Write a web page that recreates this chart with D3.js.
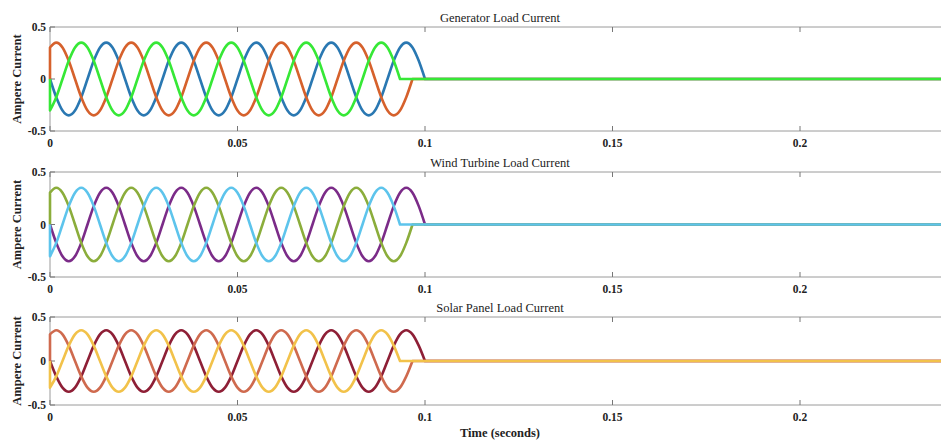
<!DOCTYPE html>
<html>
<head>
<meta charset="utf-8">
<script src="https://cdn.jsdelivr.net/npm/d3@7/dist/d3.min.js"></script>
<style>
body { margin:0; background:#fff; }
text { font-family:"Liberation Serif","Times New Roman",serif; fill:#222; }
</style>
</head>
<body>
<svg id="chart" width="941" height="442"></svg>
<script>
// one sample every 30 electrical degrees of the 50 Hz waveform
var sampleStep = 1/600;
var tEnd = 0.24;
var xTicks = [0, 0.05, 0.1, 0.15, 0.2];
var yTicks = [-0.5, 0, 0.5];

var panelTitles = ["Generator Load Current", "Wind Turbine Load Current", "Solar Panel Load Current"];
var generatorColors = ["#2a78b2", "#d6612c", "#36e836"];
var windColors = ["#7b2b88", "#8bad3b", "#5dc4ec"];
var solarColors = ["#8e1f36", "#cf6a4e", "#f2c24a"];

// phase currents (A), each phase stops at its own zero crossing
var phaseA = [0,-0.175,-0.303,-0.35,-0.303,-0.175,0,0.175,0.303,0.35,0.303,0.175,
              0,-0.175,-0.303,-0.35,-0.303,-0.175,0,0.175,0.303,0.35,0.303,0.175,
              0,-0.175,-0.303,-0.35,-0.303,-0.175,0,0.175,0.303,0.35,0.303,0.175,
              0,-0.175,-0.303,-0.35,-0.303,-0.175,0,0.175,0.303,0.35,0.303,0.175,
              0,-0.175,-0.303,-0.35,-0.303,-0.175,0,0.175,0.303,0.35,0.303,0.175,
              0];
var phaseB = [0.303,0.35,0.303,0.175,0,-0.175,-0.303,-0.35,-0.303,-0.175,0,0.175,
              0.303,0.35,0.303,0.175,0,-0.175,-0.303,-0.35,-0.303,-0.175,0,0.175,
              0.303,0.35,0.303,0.175,0,-0.175,-0.303,-0.35,-0.303,-0.175,0,0.175,
              0.303,0.35,0.303,0.175,0,-0.175,-0.303,-0.35,-0.303,-0.175,0,0.175,
              0.303,0.35,0.303,0.175,0,-0.175,-0.303,-0.35,-0.303,-0.175,0];
var phaseC = [-0.303,-0.175,0,0.175,0.303,0.35,0.303,0.175,0,-0.175,-0.303,-0.35,
              -0.303,-0.175,0,0.175,0.303,0.35,0.303,0.175,0,-0.175,-0.303,-0.35,
              -0.303,-0.175,0,0.175,0.303,0.35,0.303,0.175,0,-0.175,-0.303,-0.35,
              -0.303,-0.175,0,0.175,0.303,0.35,0.303,0.175,0,-0.175,-0.303,-0.35,
              -0.303,-0.175,0,0.175,0.303,0.35,0.303,0.175,0];

var panels = [
    {title: panelTitles[0], colors: generatorColors, top: 27, bottom: 131},
    {title: panelTitles[1], colors: windColors, top: 172, bottom: 277},
    {title: panelTitles[2], colors: solarColors, top: 317, bottom: 405}
];

var svg = d3.select("#chart");
var x = d3.scaleLinear().domain([0, tEnd]).range([50, 950]);

function phasePath(vals, y) {
    var pts = vals.map(function(v, i) { return [x(i * sampleStep), y(v)]; });
    var d = d3.line().curve(d3.curveMonotoneX)(pts);
    return "M" + x(0) + "," + y(0) + "L" + d.slice(1) + "L" + x(tEnd) + "," + y(0);
}

function drawPanel(p) {
    var y = d3.scaleLinear().domain([-0.5, 0.5]).range([p.bottom, p.top]);
    var g = svg.append("g");

    // box lines
    g.append("line").attr("x1", x(0)).attr("x2", 941).attr("y1", p.top).attr("y2", p.top)
        .attr("stroke", "#9a9a9a");
    g.append("line").attr("x1", x(0)).attr("x2", 941).attr("y1", p.bottom).attr("y2", p.bottom)
        .attr("stroke", "#9a9a9a");
    g.append("line").attr("x1", x(0)).attr("x2", x(0)).attr("y1", p.top).attr("y2", p.bottom)
        .attr("stroke", "#9a9a9a");

    // x ticks, inside top and bottom
    xTicks.forEach(function(t) {
        g.append("line").attr("x1", x(t)).attr("x2", x(t)).attr("y1", p.top).attr("y2", p.top + 5)
            .attr("stroke", "#777");
        g.append("line").attr("x1", x(t)).attr("x2", x(t)).attr("y1", p.bottom).attr("y2", p.bottom - 5)
            .attr("stroke", "#777");
        g.append("text").attr("x", x(t)).attr("y", p.bottom + 16)
            .attr("text-anchor", "middle").attr("font-size", 11.5).attr("font-weight", "bold")
            .text(t);
    });
    yTicks.forEach(function(v) {
        g.append("line").attr("x1", x(0)).attr("x2", x(0) + 5).attr("y1", y(v)).attr("y2", y(v))
            .attr("stroke", "#777");
        g.append("text").attr("x", 46).attr("y", y(v) + 4)
            .attr("text-anchor", "end").attr("font-size", 11.5).attr("font-weight", "bold")
            .text(v);
    });

    [phaseA, phaseB, phaseC].forEach(function(vals, i) {
        g.append("path").attr("d", phasePath(vals, y))
            .attr("fill", "none").attr("stroke", p.colors[i])
            .attr("stroke-width", 2.6).attr("stroke-linejoin", "round");
    });

    g.append("text").attr("x", 500).attr("y", p.top - 5)
        .attr("text-anchor", "middle").attr("font-size", 12.5)
        .text(p.title);
    g.append("text")
        .attr("transform", "translate(21," + ((p.top + p.bottom) / 2) + ") rotate(-90)")
        .attr("text-anchor", "middle").attr("font-size", 12.5).attr("font-weight", "bold")
        .text("Ampere Current");
}

panels.forEach(drawPanel);

svg.append("text").attr("x", 500).attr("y", 437)
    .attr("text-anchor", "middle").attr("font-size", 12.5).attr("font-weight", "bold")
    .text("Time (seconds)");
</script>
</body>
</html>
